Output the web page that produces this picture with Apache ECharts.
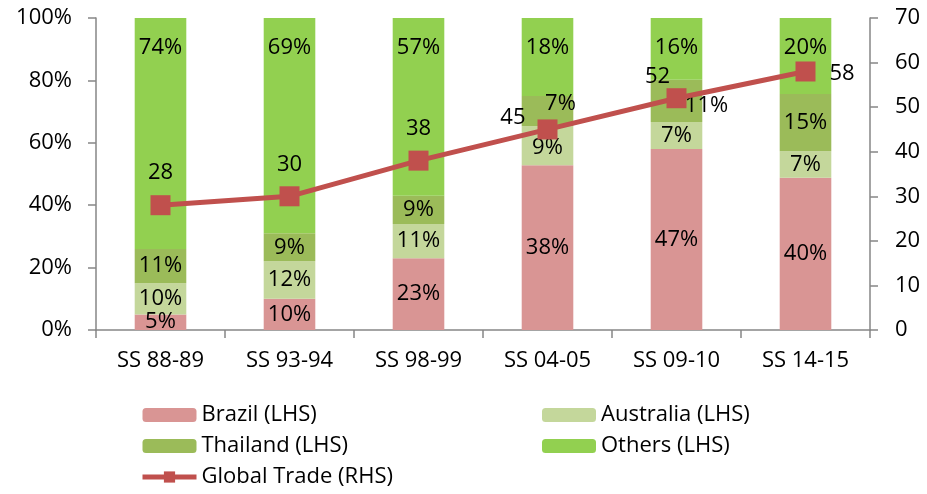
<!DOCTYPE html>
<html><head><meta charset="utf-8">
<script src="https://cdn.jsdelivr.net/npm/echarts@6/dist/echarts.min.js"></script>
<style>html,body{margin:0;padding:0;background:#fff}#c{width:927px;height:494px}</style>
</head><body><div id="c"></div>
<script>
const categories = ['SS 88-89','SS 93-94','SS 98-99','SS 04-05','SS 09-10','SS 14-15'];
const brazil    = [5, 10, 23, 38, 47, 40];
const australia = [10, 12, 11, 9, 7, 7];
const thailand  = [11, 9, 9, 7, 11, 15];
const others    = [74, 69, 57, 18, 16, 20];
const globalTrade = [28, 30, 38, 45, 52, 58];
const leftTicks = [0, 20, 40, 60, 80, 100];
const rightTicks = [0, 10, 20, 30, 40, 50, 60, 70];

const FONT = 'Open Sans';
const FS = 22;
const totals = categories.map((_, i) => brazil[i] + australia[i] + thailand[i] + others[i]);
const share = arr => arr.map((v, i) => v / totals[i] * 100);

const labelOffsets = {
  'Thailand (LHS)': {3: [13, -7], 4: [30, 5]},
  'Australia (LHS)': {3: [0, 2]}
};
function barSeries(name, raw, color, labelExtra) {
  return {
    name, type: 'bar', stack: 'a', barWidth: '40%', yAxisIndex: 0,
    itemStyle: {color},
    data: share(raw).map((v, i) => {
      const o = {value: v};
      const off = labelOffsets[name] && labelOffsets[name][i];
      if (off) o.label = {offset: off};
      return o;
    }),
    label: Object.assign({
      show: true, position: 'inside', color: '#000', fontFamily: FONT, fontSize: FS,
      formatter: p => raw[p.dataIndex] + '%'
    }, labelExtra || {}),
    emphasis: {disabled: true}
  };
}
const linePos = [
  {position: 'top', distance: 11},
  {position: 'top', distance: 11},
  {position: 'top', distance: 11},
  {position: 'left', distance: 12, offset: [0, -12]},
  {position: 'top', distance: 0, offset: [-19, 0]},
  {position: 'right', distance: 14, offset: [0, 2]}
];
const legendText = {fontFamily: FONT, fontSize: FS, color: '#000'};

const chart = echarts.init(document.getElementById('c'));
chart.setOption({
  animation: false,
  grid: {left: 96, right: 57, top: 18, bottom: 164},
  legend: [
    {left: 135, top: 399, orient: 'vertical', itemWidth: 54, itemHeight: 14, itemGap: 9,
     textStyle: legendText,
     data: ['Brazil (LHS)', 'Thailand (LHS)',
            {name: 'Global Trade (RHS)', lineStyle: {width: 5}}]},
    {left: 537, top: 399, orient: 'vertical', itemWidth: 54, itemHeight: 14, itemGap: 9,
     textStyle: legendText,
     data: ['Australia (LHS)', 'Others (LHS)']}
  ],
  xAxis: {
    type: 'category', data: categories,
    axisLine: {lineStyle: {color: '#868686', width: 1.5}},
    axisTick: {show: true, length: 8, lineStyle: {color: '#868686', width: 1.5}},
    axisLabel: {color: '#000', fontFamily: FONT, fontSize: FS, margin: 20}
  },
  yAxis: [
    {type: 'value', min: leftTicks[0], max: leftTicks[leftTicks.length-1], interval: 20,
     axisLine: {show: true, lineStyle: {color: '#868686', width: 1.5}},
     axisTick: {show: true, length: 8, lineStyle: {color: '#868686', width: 1.5}},
     splitLine: {show: false},
     axisLabel: {color: '#000', fontFamily: FONT, fontSize: FS, margin: 24, formatter: '{value}%'}},
    {type: 'value', min: rightTicks[0], max: rightTicks[rightTicks.length-1], interval: 10,
     axisLine: {show: true, lineStyle: {color: '#868686', width: 1.5}},
     axisTick: {show: true, length: 8, lineStyle: {color: '#868686', width: 1.5}},
     splitLine: {show: false},
     axisLabel: {color: '#000', fontFamily: FONT, fontSize: FS, margin: 25}}
  ],
  series: [
    barSeries('Brazil (LHS)', brazil, '#D99594'),
    barSeries('Australia (LHS)', australia, '#C4D79B'),
    barSeries('Thailand (LHS)', thailand, '#9BBB59'),
    barSeries('Others (LHS)', others, '#92D050', {position: 'insideTop', distance: 19}),
    {
      name: 'Global Trade (RHS)', type: 'line', yAxisIndex: 1, z: 5,
      symbol: 'rect', symbolSize: 20,
      lineStyle: {color: '#C0504D', width: 5},
      itemStyle: {color: '#C0504D'},
      data: globalTrade.map((v, i) => ({value: v, label: linePos[i]})),
      label: {show: true, color: '#000', fontFamily: FONT, fontSize: FS},
      emphasis: {disabled: true}
    }
  ]
});
</script></body></html>
